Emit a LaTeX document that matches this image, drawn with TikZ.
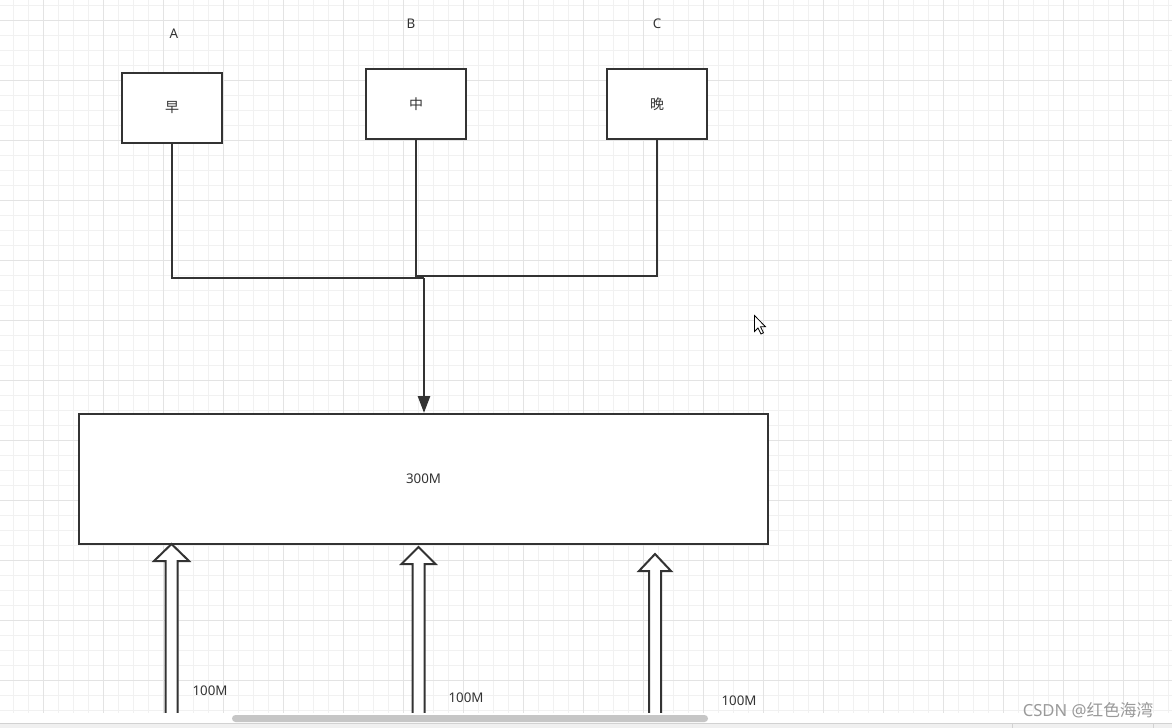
\documentclass[tikz,border=0pt]{standalone}
\usepackage{fontspec}
\setmainfont{Noto Sans}
\newfontfamily\cjk{Noto Sans CJK SC}
\usetikzlibrary{arrows.meta}

\definecolor{ink}{HTML}{333333}
\definecolor{gridminor}{HTML}{F1F1F1}
\definecolor{gridmajor}{HTML}{E3E3E3}
\definecolor{thumbgray}{HTML}{C6C6C6}
\definecolor{barline}{HTML}{D2D2D2}
\definecolor{barfill}{HTML}{F0F0F0}
\definecolor{wmgray}{HTML}{9A9A9A}

\tikzset{
  shiftbox/.style={draw=ink,line width=1.5pt,fill=white,inner sep=0pt,
    minimum width=75pt,minimum height=52.5pt,font=\cjk\fontsize{10.5}{12}\selectfont,text=ink},
  totalbox/.style={draw=ink,line width=1.5pt,fill=white,inner sep=0pt,
    minimum width=516.75pt,minimum height=97.5pt,font=\fontsize{10}{12}\selectfont,text=ink},
  tag/.style={font=\fontsize{10}{12}\selectfont,text=ink,inner sep=0pt},
  link/.style={draw=ink,line width=1.1pt},
  flow/.style={draw=ink,line width=2pt,-{Triangle[length=12.75pt,width=9pt]}},
  hollowarrow/.style={draw=ink,line width=1.5pt,fill=white,line join=miter}
}

\begin{document}
\begin{tikzpicture}[x=0.75pt,y=-0.75pt]

    \useasboundingbox (0,0) rectangle (1172,728);

    %%%%%%%%%%%%%%%%%%%%%%%%%%%%%%%%%%%%%%%%%%%%%%%%%%%%%%

    % canvas grid
    \fill[white] (0,0) rectangle (1172,713);
    \foreach \x in {13,28,...,1168} \draw[gridminor,line width=0.75pt] (\x,0) -- (\x,713);
    \foreach \y in {5,20,...,710} \draw[gridminor,line width=0.75pt] (0,\y) -- (1172,\y);
    \foreach \x in {43,103,...,1123} \draw[gridmajor,line width=0.75pt] (\x,0) -- (\x,713);
    \foreach \y in {20,80,...,680} \draw[gridmajor,line width=0.75pt] (0,\y) -- (1172,\y);

    %%%%%%%%%%%%%%%%%%%%%%%%%%%%%%%%%%%%%%%%%%%%%%%%%%%%%%

    % shifts
    \node[tag] (tagA) at (174,34) {A};
    \node[shiftbox] (early) at (172,108) {早};

    \node[tag] (tagB) at (411,24) {B};
    \node[shiftbox] (middle) at (416,104) {中};

    \node[tag] (tagC) at (657,24) {C};
    \node[shiftbox] (late) at (657,104) {晚};

    %%%%%%%%%%%%%%%%%%%%%%%%%%%%%%%%%%%%%%%%%%%%%%%%%%%%%%

    % total bandwidth
    \node[totalbox] (total) at (423.5,479) {300M};

    % merging the shifts
    \coordinate (join) at (424,278);
    \coordinate (midjoin) at (416,276);
    \draw[link] (early.south) |- (join);
    \draw[link] (middle.south) -- (midjoin) -| (late.south);
    \draw[flow] (join) -- (join |- total.north);

    %%%%%%%%%%%%%%%%%%%%%%%%%%%%%%%%%%%%%%%%%%%%%%%%%%%%%%

    % incoming links
    \foreach \x/\tip/\h/\n in {171.5/544/17.5/1, 418.5/547/17/2, 655/554/16/3}{
      \coordinate (feed\n) at (\x,713);
      \coordinate (head\n) at (\x,\tip);
      \draw[hollowarrow] (\x-6,713) -- (\x-6,\tip+17) -- (\x-\h,\tip+17) -- (head\n)
        -- (\x+\h,\tip+17) -- (\x+6,\tip+17) -- (\x+6,713);
    }
    \node[tag] (rate1) at (210,691) {100M};
    \node[tag] (rate2) at (466,698) {100M};
    \node[tag] (rate3) at (739,701) {100M};

    %%%%%%%%%%%%%%%%%%%%%%%%%%%%%%%%%%%%%%%%%%%%%%%%%%%%%%

    % mouse pointer
    \draw[fill=white,draw=black,line width=0.6pt,line join=miter]
      (754.5,315.5) -- ++(0,16) -- ++(3.5,-3.5) -- ++(3,6) -- ++(2.5,-1.2)
      -- ++(-3,-6) -- ++(5,0) -- cycle;

    % scroll bar
    \fill[white] (0,713) rectangle (1172,723);
    \fill[thumbgray,rounded corners=2.6pt] (232,715) rectangle (708,722);
    \fill[barfill] (0,723) rectangle (1172,728);
    \draw[barline,line width=0.75pt] (0,723) -- (1172,723);
    \draw[barline,line width=0.75pt] (1012,723) -- (1012,728);
    \draw[barline,line width=0.75pt] (1153,723) -- (1153,728);

    % watermark
    \node[text=wmgray,font=\fontsize{12.5}{14}\selectfont,inner sep=0pt] (stamp) at (1088,710)
      {CSDN @{\cjk 红色海湾}};

\end{tikzpicture}
\end{document}
